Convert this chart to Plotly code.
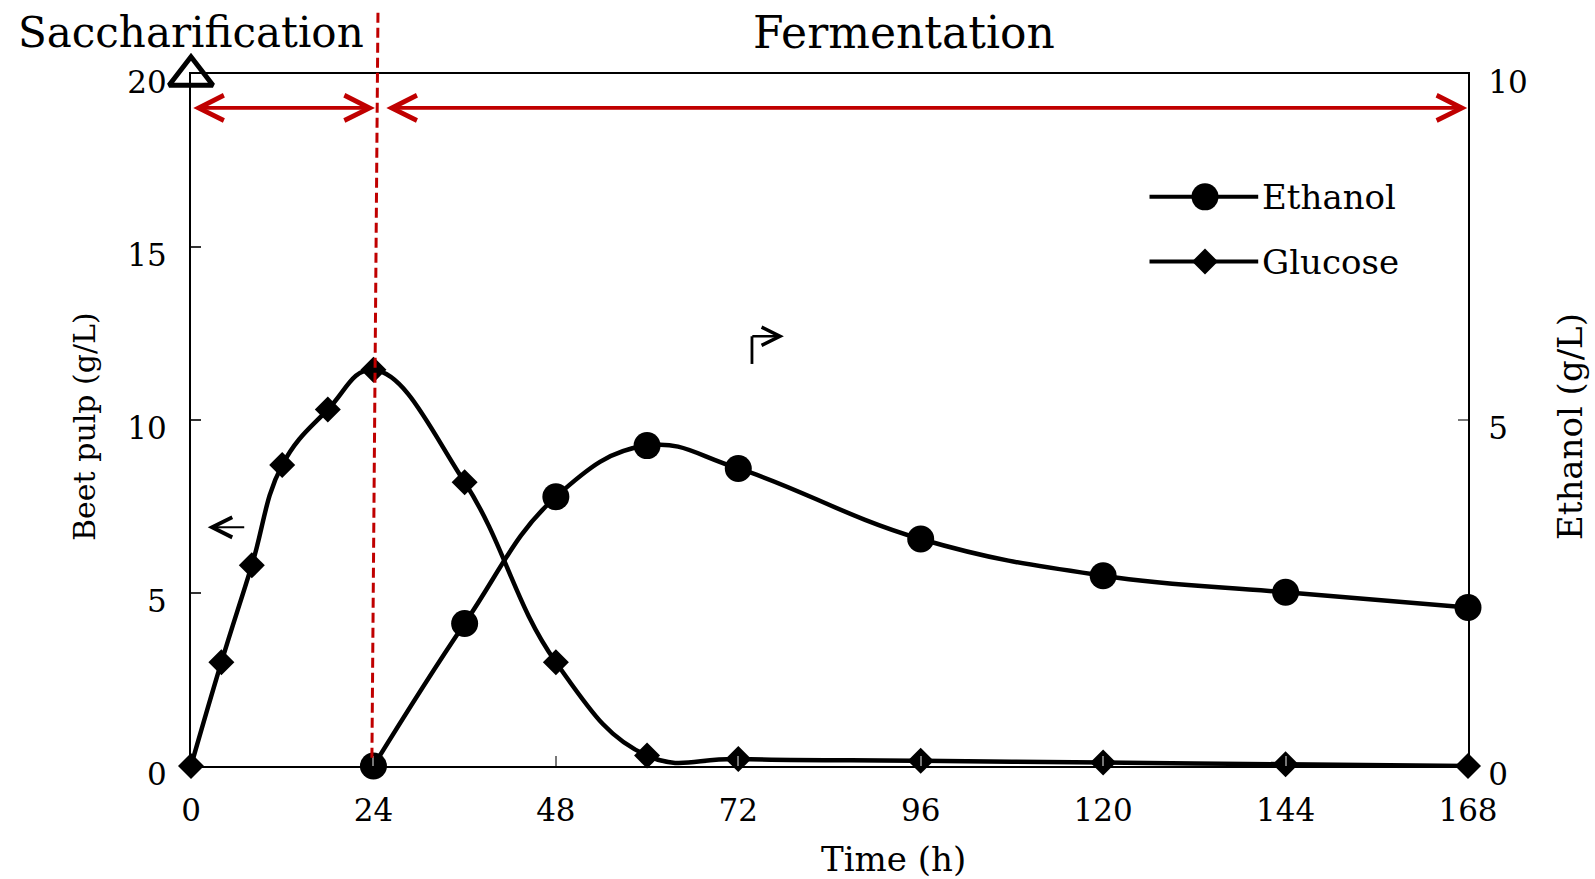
import plotly.graph_objects as go

# ---- data ----
glucose_t = [0, 4, 8, 12, 18, 24, 36, 48, 60, 72, 96, 120, 144, 168]
glucose_v = [0, 3.0, 5.8, 8.7, 10.3, 11.45, 8.2, 3.0, 0.3, 0.2, 0.15, 0.1, 0.05, 0.0]
ethanol_t = [24, 36, 48, 60, 72, 96, 120, 144, 168]
ethanol_v = [0, 2.06, 3.89, 4.63, 4.30, 3.28, 2.75, 2.51, 2.29]
x_ticks = [0, 24, 48, 72, 96, 120, 144, 168]
y_left_ticks = [0, 5, 10, 15, 20]
y_right_ticks = [0, 5, 10]

FONT = "DejaVu Serif"
RED = "#C00000"
TICKSIZE = 31

fig = go.Figure()
fig.add_trace(go.Scatter(
    x=glucose_t, y=glucose_v, mode="lines+markers", name="Glucose",
    line=dict(color="black", width=4.5, shape="spline", smoothing=1.2),
    marker=dict(symbol="diamond", size=20, color="black"),
    cliponaxis=False, showlegend=False))
fig.add_trace(go.Scatter(
    x=ethanol_t, y=ethanol_v, mode="lines+markers", name="Ethanol", yaxis="y2",
    line=dict(color="black", width=4.5, shape="spline", smoothing=1.2),
    marker=dict(symbol="circle", size=27, color="black"),
    cliponaxis=False, showlegend=False))

# open triangle at top of left axis
fig.add_trace(go.Scatter(x=[0], y=[19.95], mode="markers",
    marker=dict(symbol="triangle-up-open", size=38, color="black", line=dict(width=5, color="black")),
    cliponaxis=False, showlegend=False, hoverinfo="skip"))

# manual legend
leg_x0, leg_x1, leg_xm = 126.1, 140.4, 133.4
for yv, sym, sz, label in [(16.45, "circle", 27, "Ethanol"), (14.58, "diamond", 20, "Glucose")]:
    fig.add_shape(type="line", x0=leg_x0, x1=leg_x1, y0=yv, y1=yv, xref="x", yref="y",
                  line=dict(color="black", width=4))
    fig.add_trace(go.Scatter(x=[leg_xm], y=[yv], mode="markers",
        marker=dict(symbol=sym, size=sz, color="black"), showlegend=False, hoverinfo="skip"))
    fig.add_annotation(x=leg_x1 + 0.2, y=yv, xref="x", yref="y", text=label, showarrow=False,
                       xanchor="left", yanchor="middle", font=dict(family=FONT, size=34, color="black"))

# red dashed vertical divider
fig.add_shape(type="line", x0=23.8, x1=24.6, y0=0.012, y1=1.092, xref="x", yref="paper",
              line=dict(color=RED, width=3, dash="10px,5px"))
# red double arrows
for xa, xb in [(0.1, 24.2), (25.5, 167.9)]:
    fig.add_annotation(x=xb, y=19.02, ax=xa, ay=19.02, xref="x", yref="y", axref="x", ayref="y",
                       text="", showarrow=True, arrowhead=5, startarrowhead=5, arrowside="end+start",
                       arrowsize=1.3, startarrowsize=1.3, arrowwidth=3.8, arrowcolor=RED)

# small black arrows
fig.add_annotation(x=2.2, y=6.9, ax=7.2, ay=6.9, xref="x", yref="y", axref="x", ayref="y",
                   text="", showarrow=True, arrowhead=5, arrowsize=1.8, arrowwidth=2.2, arrowcolor="black")
fig.add_shape(type="line", x0=73.8, x1=73.8, y0=11.62, y1=12.42, xref="x", yref="y",
              line=dict(color="black", width=2.8))
fig.add_annotation(x=78.0, y=12.42, ax=73.65, ay=12.42, xref="x", yref="y", axref="x", ayref="y",
                   text="", showarrow=True, arrowhead=5, arrowsize=1.5, arrowwidth=2.4, arrowcolor="black")

# titles
fig.add_annotation(x=0.0, y=1.06, xref="paper", yref="paper", text="Saccharification", showarrow=False,
                   xanchor="center", yanchor="middle", font=dict(family=FONT, size=42, color="black"))
fig.add_annotation(x=0.558, y=1.06, xref="paper", yref="paper", text="Fermentation", showarrow=False,
                   xanchor="center", yanchor="middle", font=dict(family=FONT, size=44, color="black"))
# axis titles
fig.add_annotation(x=0.55, y=-0.135, xref="paper", yref="paper", text="Time (h)", showarrow=False,
                   xanchor="center", yanchor="middle", font=dict(family=FONT, size=34, color="black"))
fig.add_annotation(x=-0.083, y=0.49, xref="paper", yref="paper", text="Beet pulp (g/L)", showarrow=False,
                   textangle=-90, xanchor="center", yanchor="middle", font=dict(family=FONT, size=30, color="black"))
fig.add_annotation(x=1.08, y=0.49, xref="paper", yref="paper", text="Ethanol (g/L)", showarrow=False,
                   textangle=-90, xanchor="center", yanchor="middle", font=dict(family=FONT, size=34, color="black"))

fig.update_layout(
    width=1595, height=879,
    margin=dict(l=191, r=127, t=74, b=113),
    paper_bgcolor="white", plot_bgcolor="white",
    font=dict(family=FONT, size=TICKSIZE, color="black"),
    xaxis=dict(range=[0, 168], tickvals=x_ticks, showgrid=False, zeroline=False,
               showline=True, linecolor="black", linewidth=2, mirror=True,
               ticks="inside", ticklen=10, tickcolor="#777", tickwidth=1.5,
               ticklabelstandoff=16, tickfont=dict(family=FONT, size=TICKSIZE)),
    yaxis=dict(range=[0, 20], tickvals=y_left_ticks, showgrid=False, zeroline=False,
               showline=True, linecolor="black", linewidth=2,
               ticks="inside", ticklen=10, tickcolor="#333", tickwidth=1.5,
               ticklabelstandoff=16, ticklabelshift=8, tickfont=dict(family=FONT, size=TICKSIZE)),
    yaxis2=dict(range=[0, 10], tickvals=y_right_ticks, overlaying="y", side="right",
                showgrid=False, zeroline=False, showline=True, linecolor="black", linewidth=2,
                ticks="inside", ticklen=10, tickcolor="#777", tickwidth=1.5,
                ticklabelstandoff=12, ticklabelshift=8, tickfont=dict(family=FONT, size=TICKSIZE)),
    showlegend=False,
)

fig.write_html("out.html")
